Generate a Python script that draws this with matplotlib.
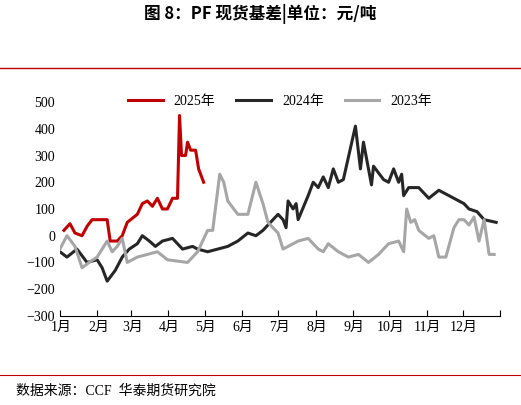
import matplotlib
matplotlib.use("Agg")
import matplotlib.pyplot as plt
from matplotlib.lines import Line2D

plt.rcParams['font.family'] = ['Liberation Serif', 'Noto Sans CJK SC']

def px2day(xs):
    return [(x - 63) / 1.2 for x in xs]

x25 = [67,73,78,85,90,95,110,113,120,125,130,140,145,150,155,160,165,170,175,180,182,184,188,190,193,198,201,206]
y25 = [20,45,10,0,35,60,60,-20,-20,0,50,80,120,130,110,140,100,100,140,140,450,300,300,350,320,320,250,200]

x24 = [63,70,80,90,100,105,110,118,125,132,140,145,152,158,165,175,185,195,200,210,220,230,240,250,258,265,280,285,288,290,295,298,300,310,315,320,325,330,335,340,345,357,362,365,370,373,375,385,390,395,400,403,405,410,420,430,440,450,460,465,470,478,485,497]
y24 = [-60,-80,-50,-100,-90,-120,-170,-130,-80,-50,-30,0,-20,-40,-20,-10,-50,-40,-50,-60,-50,-40,-20,10,0,20,80,60,30,130,100,120,60,150,200,180,220,180,250,200,210,410,250,350,250,190,260,210,200,250,200,230,150,180,180,140,170,150,130,120,100,90,60,50]

x23 = [63,70,78,85,92,100,105,110,115,120,125,130,140,150,160,170,190,200,210,215,222,226,230,240,250,258,265,270,275,280,285,290,300,310,320,325,330,340,350,360,370,380,390,400,405,408,412,416,420,430,435,440,447,455,460,465,470,475,480,485,490,495]
y23 = [-50,0,-40,-120,-100,-80,-50,-20,-60,-40,-10,-100,-80,-70,-60,-90,-100,-60,20,20,230,200,130,80,80,200,120,50,30,10,-50,-40,-20,-10,-50,-60,-30,-60,-80,-70,-100,-70,-30,-20,-60,100,50,60,20,-10,0,-80,-80,30,60,60,40,70,-20,60,-70,-70]

series = [("2025年", x25, y25, "#c00000"), ("2024年", x24, y24, "#262626"), ("2023年", x23, y23, "#a6a6a6")]
month_labels = [f"{i}月" for i in range(1, 13)]

fig = plt.figure(figsize=(5.21, 4.05), dpi=100)
fig.text(0.5, 0.965, "图 8：PF 现货基差|单位：元/吨", ha='center', va='center', fontsize=12,
         fontweight='bold', family=['Noto Sans CJK SC'])
fig.add_artist(Line2D([0.0, 1.0], [0.833, 0.833], color='#c00000', lw=1))
fig.add_artist(Line2D([0.0, 1.0], [0.075, 0.075], color='#c00000', lw=0.8))
fig.text(0.03, 0.035, "数据来源：CCF  华泰期货研究院", ha='left', va='center', fontsize=10)

ax = fig.add_axes([0.115, 0.22, 0.845, 0.528])
for name, xs, ys, c in series:
    ax.plot(px2day(xs), ys, color=c, lw=2.2, label=name)
ax.set_xlim(0, 365)
ax.set_ylim(-300, 500)
ax.set_yticks(range(-300, 501, 100))
starts = [0,31,59,90,120,151,181,212,243,273,304,334,365]
ax.set_xticks(starts)
ax.set_xticklabels([""] * 13)
for i, lab in enumerate(month_labels):
    ax.text(starts[i] + 1, -320, lab, ha='center', va='top', fontsize=10)
ax.tick_params(axis='x', direction='in', length=4)
ax.tick_params(axis='y', length=0, labelsize=10)
for s in ['top', 'right']:
    ax.spines[s].set_visible(False)
ax.spines['left'].set_visible(False)
ax.legend(loc='upper center', bbox_to_anchor=(0.5, 1.09), ncol=3, frameon=False, fontsize=10,
          handlelength=2.5, columnspacing=1.5)
fig.savefig("out.png", dpi=100)
